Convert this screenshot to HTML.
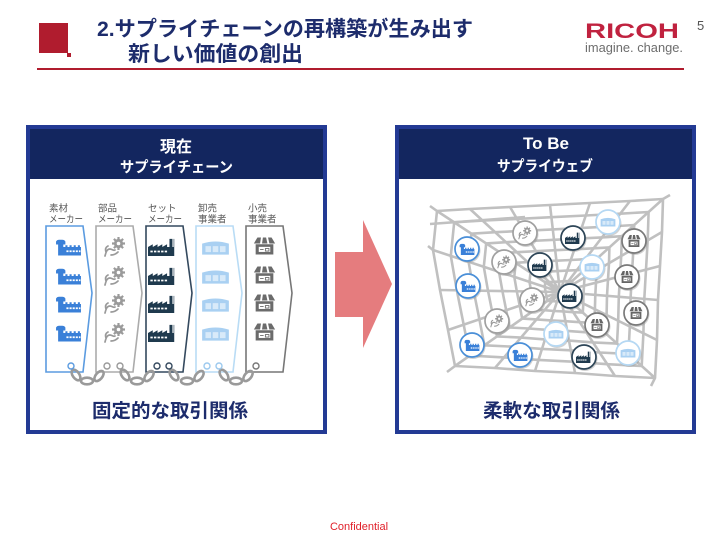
<!DOCTYPE html>
<html><head><meta charset="utf-8"><style>
html,body{margin:0;padding:0;background:#fff;}
body{width:720px;height:540px;overflow:hidden;}
svg{display:block;}
text{font-family:"Liberation Sans","Noto Sans CJK JP",sans-serif;}
</style></head><body>
<svg width="720" height="540" viewBox="0 0 720 540" xmlns="http://www.w3.org/2000/svg">
<defs>
 <symbol id="fb" viewBox="0 0 26 20" preserveAspectRatio="none">
  <path fill="currentColor" d="M3 20V7H1V3.5Q2 1.5 4 1.5H7Q9 1.5 10 3.5V7H8v13z M8 20V10h2V8h2v2h2V8h2v2h2V8h2v2h2V8h2v2h1v10z"/>
  <path fill="#fff" d="M11 14h2v2h-2zM14 14h2v2h-2zM17 14h2v2h-2zM20 14h2v2h-2zM23 14h1.5v2H23z"/>
 </symbol>
 <symbol id="fd" viewBox="0 0 26 20" preserveAspectRatio="none">
  <path fill="currentColor" d="M0 20V10l4-3v3l4-3v3l4-3v3l4-3v3h2V1h2.5v9h1V1H22v19z"/>
  <path fill="#fff" d="M2 14h2v2H2zM5 14h2v2H5zM8 14h2v2H8zM11 14h2v2h-2zM14 14h2v2h-2z"/>
 </symbol>
 <symbol id="gr" viewBox="0 0 26 20" preserveAspectRatio="none">
  <g fill="currentColor">
   <circle cx="16.5" cy="6.5" r="4.6"/>
   <path d="M15.4 0h2.2v13h-2.2zM10 5.4h13v2.2H10z"/>
   <path d="M15.4 0h2.2v13h-2.2zM10 5.4h13v2.2H10z" transform="rotate(45 16.5 6.5)"/>
  </g>
  <circle cx="16.5" cy="6.5" r="1.8" fill="#fff"/>
  <path d="M3 19c1-4 2-7 5-7c2 0 3 2 5 1M6 9c-2 1-3 3-2 6M9 18c3 0 5-1 7-3" stroke="currentColor" stroke-width="1.7" fill="none" stroke-linecap="round"/>
 </symbol>
 <symbol id="wh" viewBox="0 0 26 20" preserveAspectRatio="none">
  <path fill="currentColor" d="M1 6q12-5 24 0v13H1z"/>
  <path fill="#fff" fill-opacity=".55" d="M4 9h5v7H4zM10.5 9h5v7h-5zM17 9h5v7h-5z"/>
 </symbol>
 <symbol id="sh" viewBox="0 0 26 20" preserveAspectRatio="none">
  <path fill="currentColor" d="M5 0h16l4 7H1z"/>
  <path fill="#fff" d="M9 0h2.2l-1 7H8zM14.8 0H17l1.5 7h-2.2z"/>
  <path fill="currentColor" d="M3 8h20v12H3z"/>
  <rect x="6.5" y="11" width="13" height="6" fill="#fff"/>
  <path d="M8 14h4M14 13h4v3h-4z" stroke="currentColor" stroke-width="1" fill="none"/>
 </symbol>
</defs>

<!-- Header -->
<rect x="39" y="23" width="29" height="30" fill="#b01c2e"/>
<rect x="67" y="53" width="4" height="4" fill="#b01c2e"/>
<text x="97" y="36" font-size="21" font-weight="bold" fill="#1d2c6c" textLength="376" lengthAdjust="spacingAndGlyphs">2.サプライチェーンの再構築が生み出す</text>
<text x="128" y="61" font-size="21" font-weight="bold" fill="#1d2c6c" textLength="175" lengthAdjust="spacingAndGlyphs">新しい価値の創出</text>
<rect x="37" y="68" width="647" height="2" fill="#b01c2e"/>
<text x="585" y="38" font-size="21" font-weight="bold" fill="#c0223f" textLength="94" lengthAdjust="spacingAndGlyphs">RICOH</text>
<text x="585" y="52" font-size="13" fill="#6d6d6d" textLength="98" lengthAdjust="spacingAndGlyphs">imagine. change.</text>
<text x="697" y="30" font-size="13" fill="#555">5</text>

<!-- Left panel -->
<rect x="28" y="127" width="297" height="305" fill="#fff" stroke="#233a94" stroke-width="4"/>
<rect x="30" y="129" width="293" height="50" fill="#13265f"/>
<text x="176" y="152" font-size="16" font-weight="bold" fill="#fff" text-anchor="middle">現在</text>
<text x="120" y="172" font-size="15" font-weight="bold" fill="#fff" textLength="113" lengthAdjust="spacingAndGlyphs">サプライチェーン</text>

<g font-size="9.5" fill="#555">
 <text x="49" y="211.5">素材</text><text x="49" y="222.5" textLength="34" lengthAdjust="spacingAndGlyphs">メーカー</text>
 <text x="98" y="211.5">部品</text><text x="98" y="222.5" textLength="34" lengthAdjust="spacingAndGlyphs">メーカー</text>
 <text x="148" y="211.5">セット</text><text x="148" y="222.5" textLength="34" lengthAdjust="spacingAndGlyphs">メーカー</text>
 <text x="198" y="211.5">卸売</text><text x="198" y="222.5">事業者</text>
 <text x="248" y="211.5">小売</text><text x="248" y="222.5">事業者</text>
</g>

<g fill="#fff" stroke-width="1.6">
 <polygon points="46,226 83,226 92,293 83,372 46,372" stroke="#5b9be0"/>
 <polygon points="96,226 133,226 142,293 133,372 96,372" stroke="#ababab"/>
 <polygon points="146,226 183,226 192,293 183,372 146,372" stroke="#34495e"/>
 <polygon points="196,226 233,226 242,293 233,372 196,372" stroke="#b9dcf5"/>
 <polygon points="246,226 283,226 292,293 283,372 246,372" stroke="#777"/>
</g>

<g color="#3a80d8">
 <use href="#fb" x="55" y="238.5" width="27" height="17"/>
 <use href="#fb" x="55" y="267.5" width="27" height="17"/>
 <use href="#fb" x="55" y="295.5" width="27" height="17"/>
 <use href="#fb" x="55" y="324.5" width="27" height="17"/>
</g>
<g color="#9a9a9a">
 <use href="#gr" x="102" y="237" width="26" height="20"/>
 <use href="#gr" x="102" y="266" width="26" height="20"/>
 <use href="#gr" x="102" y="294" width="26" height="20"/>
 <use href="#gr" x="102" y="323" width="26" height="20"/>
</g>
<g color="#1f3a4e">
 <use href="#fd" x="148" y="238" width="31" height="18"/>
 <use href="#fd" x="148" y="267" width="31" height="18"/>
 <use href="#fd" x="148" y="295" width="31" height="18"/>
 <use href="#fd" x="148" y="324" width="31" height="18"/>
</g>
<g color="#a9d0f2">
 <use href="#wh" x="201" y="238.5" width="29" height="17"/>
 <use href="#wh" x="201" y="267.5" width="29" height="17"/>
 <use href="#wh" x="201" y="295.5" width="29" height="17"/>
 <use href="#wh" x="201" y="324.5" width="29" height="17"/>
</g>
<g color="#6b6b6b">
 <use href="#sh" x="253" y="237.5" width="23" height="17"/>
 <use href="#sh" x="253" y="266.5" width="23" height="17"/>
 <use href="#sh" x="253" y="294.5" width="23" height="17"/>
 <use href="#sh" x="253" y="323.5" width="23" height="17"/>
</g>

<!-- chains -->
<g fill="none" stroke="#9a9a9a" stroke-width="2.6">
 <ellipse cx="76" cy="375" rx="6" ry="3.3" transform="rotate(55 76 375)"/>
 <ellipse cx="87" cy="381" rx="6" ry="3.3"/>
 <ellipse cx="99" cy="376" rx="6" ry="3.3" transform="rotate(-50 99 376)"/>
 <ellipse cx="125" cy="375" rx="6" ry="3.3" transform="rotate(55 125 375)"/>
 <ellipse cx="137" cy="381" rx="6" ry="3.3"/>
 <ellipse cx="149" cy="376" rx="6" ry="3.3" transform="rotate(-50 149 376)"/>
 <ellipse cx="174" cy="375" rx="6" ry="3.3" transform="rotate(55 174 375)"/>
 <ellipse cx="187" cy="381" rx="6" ry="3.3"/>
 <ellipse cx="199" cy="376" rx="6" ry="3.3" transform="rotate(-50 199 376)"/>
 <ellipse cx="224" cy="375" rx="6" ry="3.3" transform="rotate(55 224 375)"/>
 <ellipse cx="236" cy="381" rx="6" ry="3.3"/>
 <ellipse cx="248" cy="376" rx="6" ry="3.3" transform="rotate(-50 248 376)"/>
</g>
<g fill="#fff" stroke-width="1.4">
 <circle cx="71" cy="366" r="3" stroke="#5b9be0"/>
 <circle cx="107" cy="366" r="3" stroke="#999"/>
 <circle cx="120" cy="366" r="3" stroke="#999"/>
 <circle cx="157" cy="366" r="3" stroke="#34495e"/>
 <circle cx="169" cy="366" r="3" stroke="#34495e"/>
 <circle cx="207" cy="366" r="3" stroke="#9cc9ee"/>
 <circle cx="219" cy="366" r="3" stroke="#9cc9ee"/>
 <circle cx="256" cy="366" r="3" stroke="#777"/>
</g>

<text x="92" y="417" font-size="19" font-weight="bold" fill="#1d2c6c" textLength="156" lengthAdjust="spacingAndGlyphs">固定的な取引関係</text>

<!-- Arrow -->
<polygon points="335,252 363,252 363,220 392,284 363,348 363,317 335,317" fill="#e57c7e"/>

<!-- Right panel -->
<rect x="397" y="127" width="297" height="305" fill="#fff" stroke="#233a94" stroke-width="4"/>
<rect x="399" y="129" width="293" height="50" fill="#13265f"/>
<text x="546" y="149" font-size="17" font-weight="bold" fill="#fff" text-anchor="middle">To Be</text>
<text x="497" y="171" font-size="15" font-weight="bold" fill="#fff" textLength="96" lengthAdjust="spacingAndGlyphs">サプライウェブ</text>

<!-- web -->
<g fill="none" stroke="#c0c0c0" stroke-width="2.6" stroke-linejoin="round">
 <path d="M560 292L437 211M560 292L470 209M560 292L510 207M560 292L550 205M560 292L590 203M560 292L630 201M560 292L663 199M560 292L662 232M560 292L660 266M560 292L658 300M560 292L657 340M560 292L655 378M560 292L615 376M560 292L575 373M560 292L535 371M560 292L495 368M560 292L455 366M560 292L448 330M560 292L440 290M560 292L433 250M430 224L525 217M663 199L670 195M655 378L651 386M455 366L447 372M437 211L430 206M433 250L428 246"/>
 <polygon points="545.2,282.3 549.2,282 554,281.8 558.8,281.6 563.6,281.3 568.4,281.1 572.4,280.8 572.2,284.8 572,288.9 571.8,293 571.6,297.8 571.4,302.3 566.6,302.1 561.8,301.7 557,301.5 552.2,301.1 547.4,300.9 546.6,296.6 545.6,291.8 544.8,287"/>
 <polygon points="530.5,272.6 538.4,272.1 548,271.6 557.6,271.1 567.2,270.6 576.8,270.2 584.7,269.7 584.5,277.6 584,285.8 583.5,293.9 583.3,303.5 582.8,312.6 573.2,312.2 563.6,311.4 554,311 544.4,310.2 534.8,309.8 533.1,301.1 531.2,291.5 529.5,281.9"/>
 <polygon points="515.7,262.8 527.6,262.1 542,261.4 556.4,260.7 570.8,260 585.2,259.2 597.1,258.5 596.7,270.4 596,282.6 595.3,294.9 594.9,309.3 594.2,323 579.8,322.2 565.4,321.2 551,320.4 536.6,319.4 522.2,318.6 519.7,305.7 516.8,291.3 514.3,276.9"/>
 <polygon points="501,253.1 516.8,252.2 536,251.2 555.2,250.2 574.4,249.3 593.6,248.3 609.4,247.4 609,263.2 608,279.5 607,295.8 606.6,315 605.6,333.3 586.4,332.3 567.2,330.9 548,329.9 528.8,328.5 509.6,327.5 506.2,310.2 502.4,291 499,271.8"/>
 <polygon points="486.2,243.4 506,242.2 530,241 554,239.8 578,238.6 602,237.4 621.8,236.2 621.2,256 620,276.4 618.8,296.8 618.2,320.8 617,343.6 593,342.4 569,340.6 545,339.4 521,337.6 497,336.4 492.8,314.8 488,290.8 483.8,266.8"/>
 <polygon points="471.4,233.7 495.2,232.2 524,230.8 552.8,229.4 581.6,227.9 610.4,226.5 634.2,225 633.4,248.8 632,273.3 630.6,297.8 629.8,326.6 628.4,353.9 599.6,352.5 570.8,350.3 542,348.9 513.2,346.7 484.4,345.3 479.4,319.4 473.6,290.6 468.6,261.8"/>
 <polygon points="454.2,222.3 482.6,220.6 517,218.9 551.4,217.2 585.8,215.5 620.2,213.7 648.6,212 647.7,240.4 646,269.6 644.3,298.9 643.4,333.3 641.7,366 607.3,364.2 572.9,361.7 538.5,359.9 504.1,357.4 469.7,355.6 463.7,324.7 456.8,290.3 450.8,255.9"/>
 <polygon points="437,211 470,209 510,207 550,205 590,203 630,201 663,199 662,232 660,266 658,300 657,340 655,378 615,376 575,373 535,371 495,368 455,366 448,330 440,290 433,250"/>
</g>

<!-- nodes -->
<g>
 <g fill="#9a9a9a" fill-opacity=".45">
  <circle cx="468" cy="250.5" r="12.5"/><circle cx="469" cy="287.5" r="12.5"/><circle cx="473" cy="346.5" r="12.5"/><circle cx="521" cy="356.5" r="12.5"/>
  <circle cx="526" cy="234.5" r="12.5"/><circle cx="505" cy="263.5" r="12.5"/><circle cx="533" cy="301.5" r="12.5"/><circle cx="498" cy="322.5" r="12.5"/>
  <circle cx="574" cy="239.5" r="12.5"/><circle cx="541" cy="266.5" r="12.5"/><circle cx="571" cy="297.5" r="12.5"/><circle cx="585" cy="358.5" r="12.5"/>
  <circle cx="609" cy="223.5" r="12.5"/><circle cx="593" cy="268.5" r="12.5"/><circle cx="557" cy="335.5" r="12.5"/><circle cx="629" cy="354.5" r="12.5"/>
  <circle cx="635" cy="242.5" r="12.5"/><circle cx="628" cy="278.5" r="12.5"/><circle cx="637" cy="314.5" r="12.5"/><circle cx="598" cy="326.5" r="12.5"/>
 </g>
 <g fill="#fff" stroke-width="1.7">
  <g stroke="#4a8fd8"><circle cx="467" cy="249" r="12"/><circle cx="468" cy="286" r="12"/><circle cx="472" cy="345" r="12"/><circle cx="520" cy="355" r="12"/></g>
  <g stroke="#a0a0a0"><circle cx="525" cy="233" r="12"/><circle cx="504" cy="262" r="12"/><circle cx="532" cy="300" r="12"/><circle cx="497" cy="321" r="12"/></g>
  <g stroke="#2e4658"><circle cx="573" cy="238" r="12"/><circle cx="540" cy="265" r="12"/><circle cx="570" cy="296" r="12"/><circle cx="584" cy="357" r="12"/></g>
  <g stroke="#b5d8f3"><circle cx="608" cy="222" r="12"/><circle cx="592" cy="267" r="12"/><circle cx="556" cy="334" r="12"/><circle cx="628" cy="353" r="12"/></g>
  <g stroke="#7a7a7a"><circle cx="634" cy="241" r="12"/><circle cx="627" cy="277" r="12"/><circle cx="636" cy="313" r="12"/><circle cx="597" cy="325" r="12"/></g>
 </g>
 <g color="#3a80d8">
  <use href="#fb" x="459" y="243" width="16" height="12"/><use href="#fb" x="460" y="280" width="16" height="12"/><use href="#fb" x="464" y="339" width="16" height="12"/><use href="#fb" x="512" y="349" width="16" height="12"/>
 </g>
 <g color="#9a9a9a">
  <use href="#gr" x="517" y="226.5" width="16" height="13"/><use href="#gr" x="496" y="255.5" width="16" height="13"/><use href="#gr" x="524" y="293.5" width="16" height="13"/><use href="#gr" x="489" y="314.5" width="16" height="13"/>
 </g>
 <g color="#1f3a4e">
  <use href="#fd" x="565" y="232" width="17" height="12"/><use href="#fd" x="532" y="259" width="17" height="12"/><use href="#fd" x="562" y="290" width="17" height="12"/><use href="#fd" x="576" y="351" width="17" height="12"/>
 </g>
 <g color="#a9d0f2">
  <use href="#wh" x="600" y="216" width="16" height="11"/><use href="#wh" x="584" y="261" width="16" height="11"/><use href="#wh" x="548" y="328" width="16" height="11"/><use href="#wh" x="620" y="347" width="16" height="11"/>
 </g>
 <g color="#666">
  <use href="#sh" x="627" y="235" width="14" height="12"/><use href="#sh" x="620" y="271" width="14" height="12"/><use href="#sh" x="629" y="307" width="14" height="12"/><use href="#sh" x="590" y="319" width="14" height="12"/>
 </g>
</g>

<text x="483" y="417" font-size="19" font-weight="bold" fill="#1d2c6c" textLength="137" lengthAdjust="spacingAndGlyphs">柔軟な取引関係</text>

<text x="359" y="530" font-size="11" fill="#e0202a" text-anchor="middle">Confidential</text>
</svg>
</body></html>
